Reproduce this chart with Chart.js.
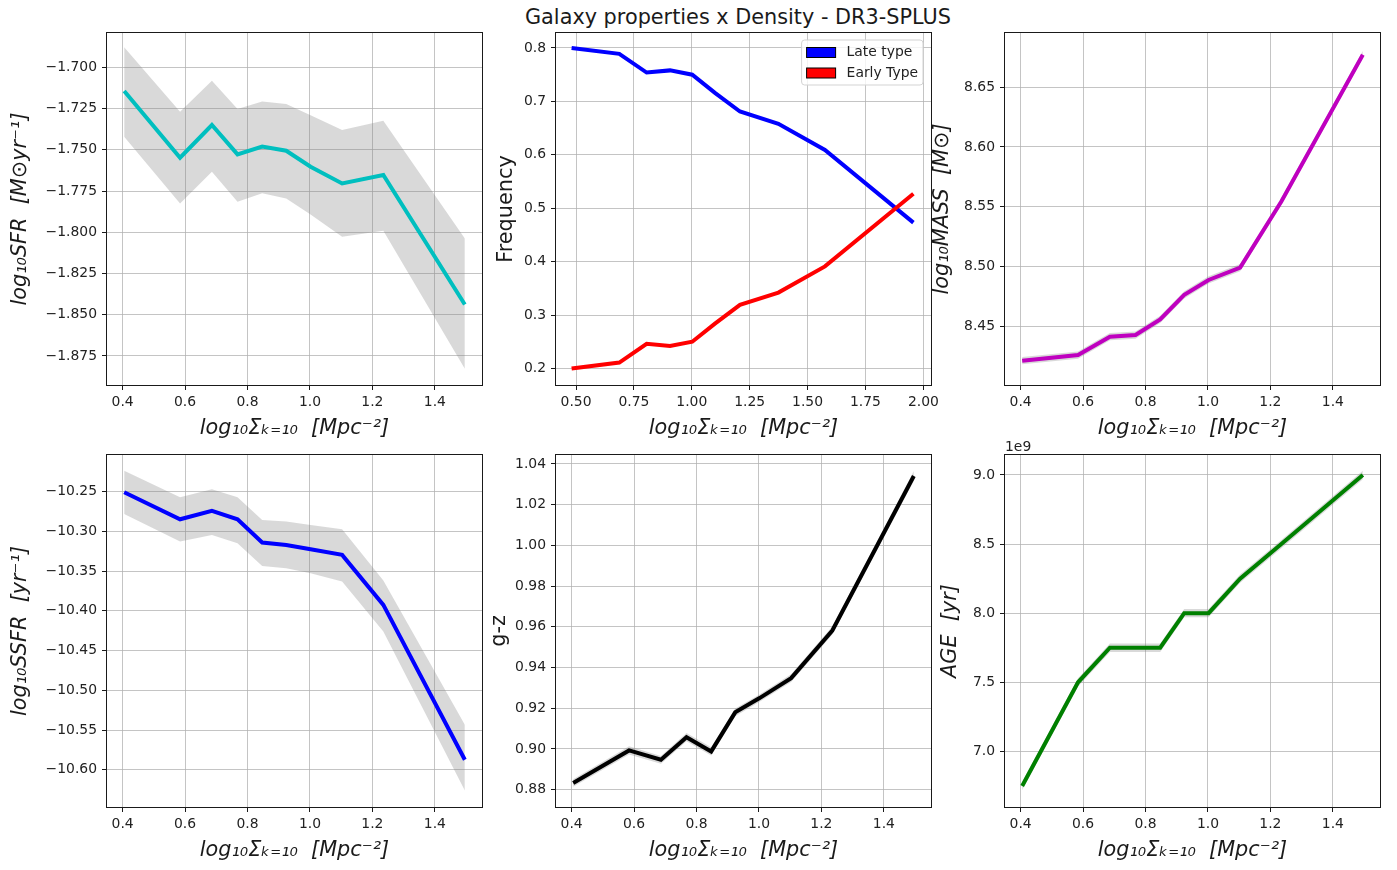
<!DOCTYPE html>
<html>
<head>
<meta charset="utf-8">
<script src="https://cdn.jsdelivr.net/npm/chart.js@4.4.1/dist/chart.umd.min.js"></script>
<style>
html,body{margin:0;padding:0;background:#ffffff;}
body{width:1397px;height:870px;position:relative;overflow:hidden;font-family:"DejaVu Sans",sans-serif;}
#title{position:absolute;left:0;top:5px;width:1476px;text-align:center;font-size:20.8px;line-height:24px;color:#1a1a1a;white-space:nowrap;}
.panel{position:absolute;}
.panel canvas{display:block;}
</style>
</head>
<body>
<div id="title">Galaxy properties x Density - DR3-SPLUS</div>
<script>
// ---------------- DATA ----------------
const densityX = [0.405, 0.584, 0.686, 0.768, 0.847, 0.924, 1.002, 1.103, 1.235, 1.496];

const sfrMean  = [-1.7144, -1.7548, -1.7350, -1.7528, -1.7481, -1.7506, -1.7603, -1.7704, -1.7653, -1.8438];
const sfrUpper = [-1.6879, -1.7269, -1.7081, -1.7253, -1.7208, -1.7223, -1.7291, -1.7380, -1.7324, -1.8038];
const sfrLower = [-1.7421, -1.7825, -1.7633, -1.7815, -1.7764, -1.7795, -1.7893, -1.8027, -1.7991, -1.8827];

const freqX     = [0.481, 0.687, 0.805, 0.906, 1.002, 1.100, 1.208, 1.374, 1.575, 1.957];
const lateType  = [0.800, 0.789, 0.754, 0.758, 0.750, 0.716, 0.681, 0.658, 0.609, 0.473];
const earlyType = [0.200, 0.211, 0.246, 0.242, 0.250, 0.284, 0.319, 0.342, 0.391, 0.527];

const massMean  = [8.4216, 8.4263, 8.4416, 8.4430, 8.4561, 8.4765, 8.4890, 8.4993, 8.5545, 8.6770];
const massUpper = [8.4246, 8.4293, 8.4446, 8.4460, 8.4591, 8.4795, 8.4920, 8.5023, 8.5575, 8.6800];
const massLower = [8.4186, 8.4233, 8.4386, 8.4400, 8.4531, 8.4735, 8.4860, 8.4963, 8.5515, 8.6740];

const ssfrMean  = [-10.2508, -10.2848, -10.2743, -10.2848, -10.3141, -10.3171, -10.3225, -10.3296, -10.3925, -10.5874];
const ssfrUpper = [-10.2236, -10.2571, -10.2471, -10.2571, -10.2856, -10.2877, -10.2919, -10.2973, -10.3619, -10.5434];
const ssfrLower = [-10.2781, -10.3129, -10.3045, -10.3150, -10.3435, -10.3464, -10.3527, -10.3632, -10.4260, -10.6260];

const gzMean  = [0.8833, 0.8993, 0.8947, 0.9058, 0.8988, 0.9180, 0.9250, 0.9348, 0.9582, 1.0341];
const gzUpper = [0.8851, 0.9013, 0.8966, 0.9078, 0.9008, 0.9199, 0.9268, 0.9367, 0.9602, 1.0366];
const gzLower = [0.8815, 0.8973, 0.8928, 0.9038, 0.8968, 0.9161, 0.9232, 0.9329, 0.9562, 1.0316];

const ageMean  = [6.75e9, 7.50e9, 7.75e9, 7.75e9, 7.75e9, 8.00e9, 8.00e9, 8.25e9, 8.50e9, 9.00e9];
const ageUpper = [6.78e9, 7.53e9, 7.78e9, 7.78e9, 7.78e9, 8.03e9, 8.03e9, 8.28e9, 8.53e9, 9.03e9];
const ageLower = [6.72e9, 7.47e9, 7.72e9, 7.72e9, 7.72e9, 7.97e9, 7.97e9, 8.22e9, 8.47e9, 8.97e9];

// tick labels
const densityTicks = [0.4, 0.6, 0.8, 1.0, 1.2, 1.4];
const freqXTicks   = [0.50, 0.75, 1.00, 1.25, 1.50, 1.75, 2.00];
const sfrTicks     = [-1.875, -1.850, -1.825, -1.800, -1.775, -1.750, -1.725, -1.700];
const freqYTicks   = [0.2, 0.3, 0.4, 0.5, 0.6, 0.7, 0.8];
const massTicks    = [8.45, 8.50, 8.55, 8.60, 8.65];
const ssfrTicks    = [-10.60, -10.55, -10.50, -10.45, -10.40, -10.35, -10.30, -10.25];
const gzTicks      = [0.88, 0.90, 0.92, 0.94, 0.96, 0.98, 1.00, 1.02, 1.04];
const ageTicks     = [7.0e9, 7.5e9, 8.0e9, 8.5e9, 9.0e9];

const xLabel = 'log\u2081\u2080\u03A3\u2096\u208C\u2081\u2080  [Mpc\u207B\u00B2]';

// ---------------- HELPERS ----------------
const FAMILY = '"DejaVu Sans", sans-serif';
const PLOT_W = 375, PLOT_H = 352, YAX_W = 100, XAX_H = 56, PAD_T = 18, PAD_R = 22;
const BAND = 'rgba(128,128,128,0.30)';

function fmt(dec, div) {
  return v => {
    const s = (v / (div || 1)).toFixed(dec);
    return s.charAt(0) === '-' ? '\u2212' + s.slice(1) : s;
  };
}
function pts(xs, ys) { return xs.map((x, i) => ({x: x, y: ys[i]})); }

function meanWithBand(xs, mean, up, lo, color) {
  return [
    {data: pts(xs, mean), borderColor: color, borderWidth: 4, pointRadius: 0, tension: 0, fill: false, order: 0},
    {data: pts(xs, up), borderColor: 'rgba(0,0,0,0)', borderWidth: 0, pointRadius: 0, tension: 0, fill: '+1', backgroundColor: BAND, order: 1},
    {data: pts(xs, lo), borderColor: 'rgba(0,0,0,0)', borderWidth: 0, pointRadius: 0, tension: 0, fill: false, order: 2}
  ];
}

const framePlugin = {
  id: 'frame',
  afterDraw(chart) {
    const a = chart.chartArea, c = chart.ctx;
    c.save();
    c.strokeStyle = '#1a1a1a';
    c.lineWidth = 1;
    c.strokeRect(Math.round(a.left) - 0.5, Math.round(a.top) - 0.5, Math.round(a.right - a.left) + 1, Math.round(a.bottom - a.top) + 1);
    c.restore();
  }
};

const extrasPlugin = {
  id: 'extras',
  afterDraw(chart, args, opts) {
    const a = chart.chartArea, c = chart.ctx;
    if (opts.offsetText) {
      c.save();
      c.font = '13.9px ' + FAMILY;
      c.fillStyle = '#222';
      c.textAlign = 'left';
      c.textBaseline = 'alphabetic';
      c.fillText(opts.offsetText, a.left, a.top - 4);
      c.restore();
    }
    if (opts.legendItems) {
      c.save();
      c.font = '13.9px ' + FAMILY;
      let tw = 0;
      opts.legendItems.forEach(it => { tw = Math.max(tw, c.measureText(it.text).width); });
      const bw = 45 + tw + 5, bh = 45;
      const bx = a.right - 8 - bw, by = a.top + 7;
      c.beginPath();
      if (c.roundRect) c.roundRect(bx, by, bw, bh, 3); else c.rect(bx, by, bw, bh);
      c.fillStyle = 'rgba(255,255,255,0.8)';
      c.fill();
      c.strokeStyle = '#d3d3d3';
      c.lineWidth = 1;
      c.stroke();
      opts.legendItems.forEach((it, i) => {
        const cy = by + 12.5 + i * 20.5;
        c.fillStyle = it.color;
        c.fillRect(bx + 5, cy - 5, 29, 10);
        c.strokeStyle = '#000';
        c.lineWidth = 1;
        c.strokeRect(bx + 5, cy - 5, 29, 10);
        c.fillStyle = '#222';
        c.textAlign = 'left';
        c.textBaseline = 'middle';
        c.fillText(it.text, bx + 45, cy);
      });
      c.restore();
    }
  }
};

function makePanel(p) {
  const div = document.createElement('div');
  div.className = 'panel';
  const W = YAX_W + PLOT_W + PAD_R, H = PAD_T + PLOT_H + XAX_H;
  div.style.left = (p.L - YAX_W) + 'px';
  div.style.top = (p.T - PAD_T) + 'px';
  div.style.width = W + 'px';
  div.style.height = H + 'px';
  const cv = document.createElement('canvas');
  cv.width = W; cv.height = H;
  div.appendChild(cv);
  document.body.appendChild(div);

  const tickFont = {family: FAMILY, size: 13.9};
  const grid = {color: 'rgba(176,176,176,0.75)', lineWidth: 1, drawTicks: true, tickLength: 5, tickColor: '#1a1a1a', tickWidth: 1};

  new Chart(cv, {
    type: 'line',
    data: {datasets: p.datasets},
    options: {
      responsive: false,
      animation: false,
      layout: {autoPadding: false, padding: {top: PAD_T, right: PAD_R, left: 0, bottom: 0}},
      plugins: {
        legend: {display: false},
        tooltip: {enabled: false},
        extras: {offsetText: p.offsetText || null, legendItems: p.legendItems || null}
      },
      scales: {
        x: {
          type: 'linear', min: p.xMin, max: p.xMax,
          afterBuildTicks: s => { s.ticks = p.xTicks.map(v => ({value: v})); },
          afterFit: s => { s.height = XAX_H; },
          ticks: {font: tickFont, color: '#222', padding: 4, maxRotation: 0, autoSkip: false, callback: fmt(p.xDec)},
          grid: grid,
          border: {display: false},
          title: {display: true, text: xLabel, color: '#1a1a1a', font: {family: FAMILY, size: 20.8, style: 'italic'}, padding: {top: 0, bottom: 0}}
        },
        y: {
          type: 'linear', min: p.yMin, max: p.yMax,
          afterBuildTicks: s => { s.ticks = p.yTicks.map(v => ({value: v})); },
          afterFit: s => { s.width = YAX_W; },
          ticks: {font: tickFont, color: '#222', padding: 5, autoSkip: false, callback: fmt(p.yDec, p.yDiv)},
          grid: grid,
          border: {display: false},
          title: {display: true, text: p.yTitle, color: '#1a1a1a', font: {family: FAMILY, size: 20.8, style: p.yItalic ? 'italic' : 'normal'}, padding: {top: p.yPad, bottom: 0}}
        }
      }
    },
    plugins: [framePlugin, extrasPlugin]
  });
}

// ---------------- PANELS ----------------
makePanel({
  L: 107, T: 33, xMin: 0.350, xMax: 1.551, yMin: -1.8926, yMax: -1.6792,
  xTicks: densityTicks, xDec: 1, yTicks: sfrTicks, yDec: 3,
  yTitle: 'log\u2081\u2080SFR  [M\u2299yr\u207B\u00B9]', yItalic: true, yPad: 1.5,
  datasets: meanWithBand(densityX, sfrMean, sfrUpper, sfrLower, '#00bfbf')
});

makePanel({
  L: 556, T: 33, xMin: 0.4136, xMax: 2.033, yMin: 0.169, yMax: 0.828,
  xTicks: freqXTicks, xDec: 2, yTicks: freqYTicks, yDec: 1,
  yTitle: 'Frequency', yItalic: false, yPad: 38.5,
  datasets: [
    {label: 'Late type', data: pts(freqX, lateType), borderColor: '#0000ff', borderWidth: 4, pointRadius: 0, tension: 0, fill: false, order: 1},
    {label: 'Early Type', data: pts(freqX, earlyType), borderColor: '#ff0000', borderWidth: 4, pointRadius: 0, tension: 0, fill: false, order: 0}
  ],
  legendItems: [{text: 'Late type', color: '#0000ff'}, {text: 'Early Type', color: '#ff0000'}]
});

makePanel({
  L: 1005, T: 33, xMin: 0.350, xMax: 1.551, yMin: 8.4013, yMax: 8.6951,
  xTicks: densityTicks, xDec: 1, yTicks: massTicks, yDec: 2,
  yTitle: 'log\u2081\u2080MASS  [M\u2299]', yItalic: true, yPad: 25.5,
  datasets: meanWithBand(densityX, massMean, massUpper, massLower, '#bf00bf')
});

makePanel({
  L: 107, T: 455, xMin: 0.350, xMax: 1.551, yMin: -10.6469, yMax: -10.2039,
  xTicks: densityTicks, xDec: 1, yTicks: ssfrTicks, yDec: 2,
  yTitle: 'log\u2081\u2080SSFR  [yr\u207B\u00B9]', yItalic: true, yPad: 1.5,
  datasets: meanWithBand(densityX, ssfrMean, ssfrUpper, ssfrLower, '#0000ff')
});

makePanel({
  L: 556, T: 455, xMin: 0.350, xMax: 1.551, yMin: 0.8715, yMax: 1.0444,
  xTicks: densityTicks, xDec: 1, yTicks: gzTicks, yDec: 2,
  yTitle: 'g-z', yItalic: false, yPad: 31.5,
  datasets: meanWithBand(densityX, gzMean, gzUpper, gzLower, '#000000')
});

makePanel({
  L: 1005, T: 455, xMin: 0.350, xMax: 1.551, yMin: 6.5976e9, yMax: 9.1446e9,
  xTicks: densityTicks, xDec: 1, yTicks: ageTicks, yDec: 1, yDiv: 1e9,
  yTitle: 'AGE  [yr]', yItalic: true, yPad: 33.5, offsetText: '1e9',
  datasets: meanWithBand(densityX, ageMean, ageUpper, ageLower, '#008000')
});
</script>
</body>
</html>
